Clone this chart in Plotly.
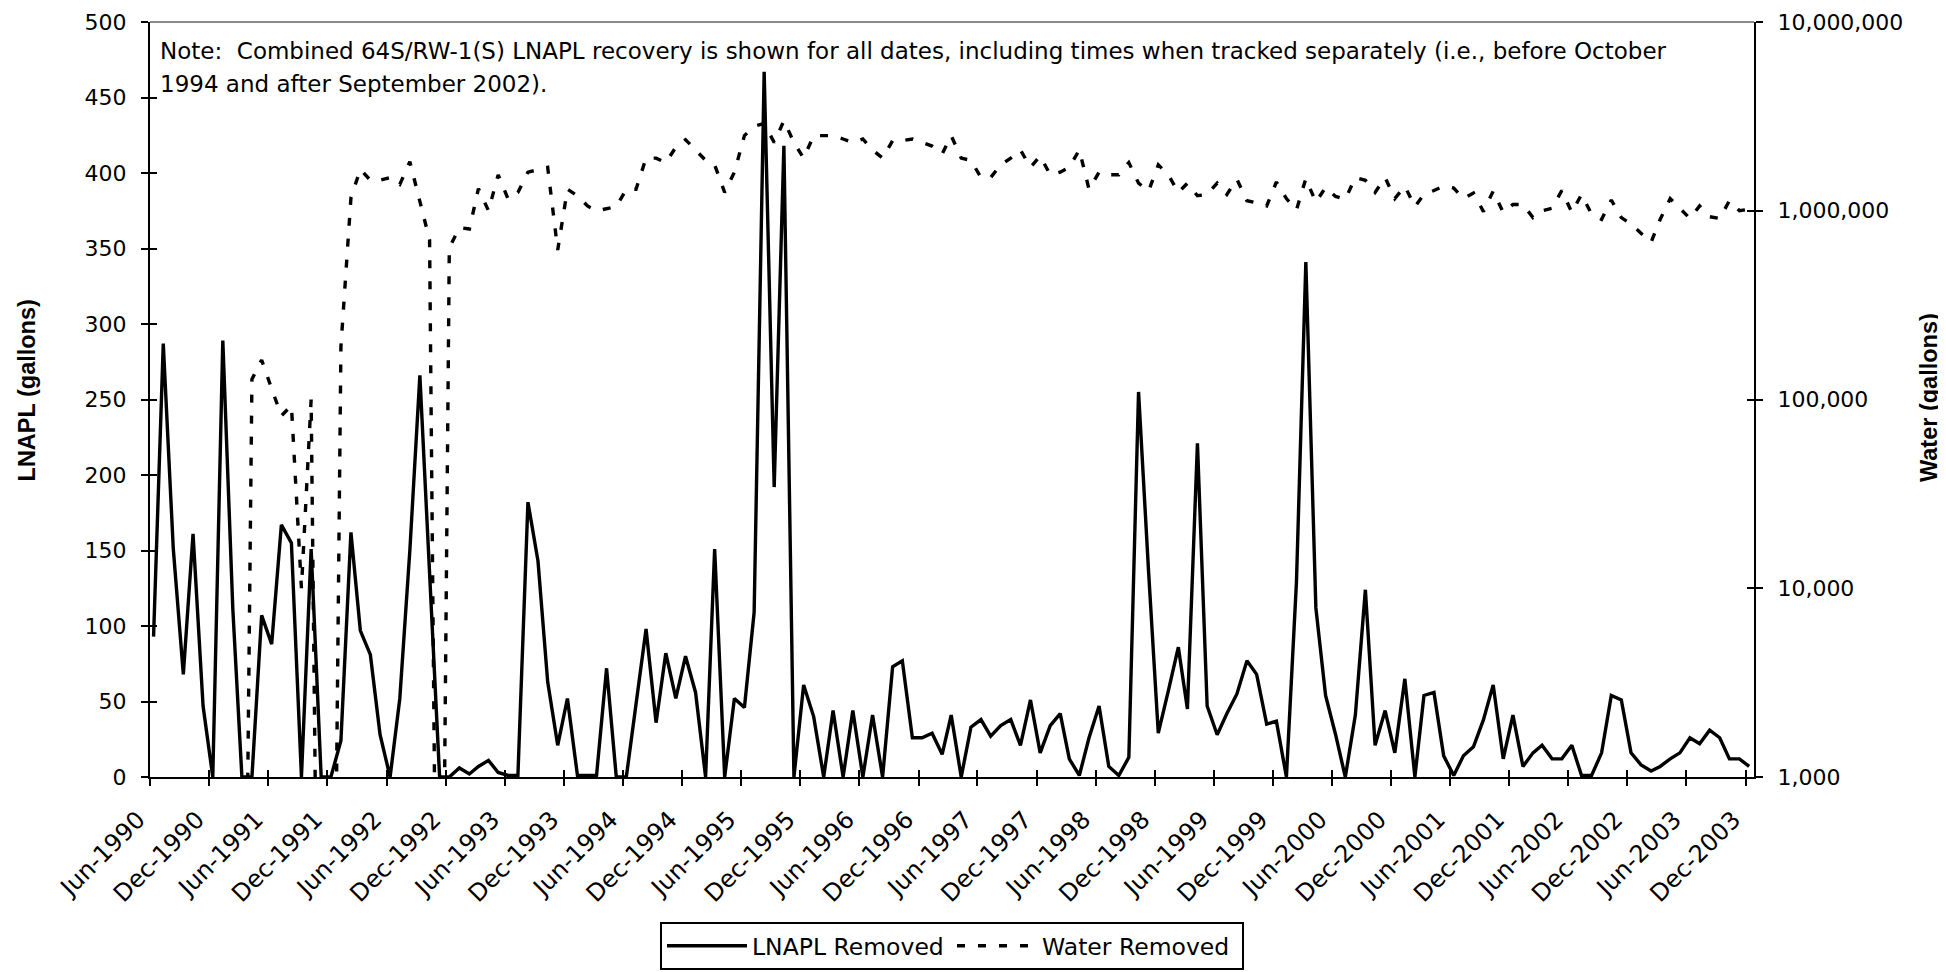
import pandas as pd
import plotly.graph_objects as go

# ---------------- data (monthly, Jun-1990 .. Dec-2003) ----------------
lnapl = [
    93, 287, 151, 68, 161, 47, 0, 289, 111, 0,
    0, 107, 88, 167, 155, 0, 151, 0, 0, 24,
    162, 97, 81, 28, 0, 52, 150, 266, 135, 0,
    0, 6, 2, 7, 11, 3, 1, 1, 182, 143,
    63, 21, 52, 1, 1, 1, 72, 0, 0, 48,
    98, 36, 82, 52, 80, 56, 0, 151, 0, 52,
    46, 109, 467, 192, 418, 0, 61, 40, 0, 44,
    0, 44, 0, 41, 0, 73, 77, 26, 26, 29,
    15, 41, 0, 33, 38, 27, 34, 38, 21, 51,
    16, 34, 42, 12, 1, 26, 47, 7, 1, 13,
    255, 136, 29, 57, 86, 45, 221, 47, 28, 42,
    55, 77, 68, 35, 37, 0, 129, 341, 112, 54,
    28, 0, 41, 124, 21, 44, 16, 65, 0, 54,
    56, 14, 1, 14, 20, 38, 61, 12, 41, 7,
    16, 21, 12, 12, 21, 1, 1, 16, 54, 51,
    16, 8, 4, 7, 12, 16, 26, 22, 31, 26,
    12, 12, 7,
]

water = [
    0, 0, 0, 0, 0, 0, 0, 0, 0, 0,
    128000, 162000, 114000, 82000, 93000, 10000, 100000, 0, 0, 190000,
    1170000, 1660000, 1450000, 1450000, 1500000, 1380000, 1820000, 1110000, 700000, 0,
    635000, 815000, 800000, 1310000, 1000000, 1550000, 1150000, 1250000, 1600000, 1650000,
    1700000, 620000, 1300000, 1200000, 1060000, 1000000, 1020000, 1050000, 1300000, 1300000,
    1900000, 1900000, 1800000, 2170000, 2380000, 2100000, 1850000, 1750000, 1250000, 1600000,
    2500000, 2800000, 2900000, 2300000, 3000000, 2300000, 1900000, 2500000, 2500000, 2500000,
    2400000, 2300000, 2400000, 2100000, 1900000, 2350000, 2350000, 2400000, 2300000, 2200000,
    2000000, 2500000, 1900000, 1850000, 1500000, 1500000, 1750000, 1900000, 2100000, 1700000,
    1950000, 1550000, 1600000, 1700000, 2100000, 1300000, 1600000, 1550000, 1550000, 1800000,
    1400000, 1270000, 1750000, 1550000, 1250000, 1400000, 1200000, 1220000, 1400000, 1220000,
    1470000, 1130000, 1100000, 1060000, 1420000, 1160000, 1010000, 1480000, 1110000, 1330000,
    1190000, 1150000, 1500000, 1450000, 1250000, 1500000, 1160000, 1350000, 1050000, 1220000,
    1280000, 1350000, 1320000, 1160000, 1240000, 990000, 1270000, 980000, 1080000, 1080000,
    920000, 1000000, 1030000, 1280000, 980000, 1220000, 960000, 900000, 1140000, 920000,
    850000, 760000, 680000, 900000, 1160000, 1030000, 910000, 1060000, 930000, 910000,
    1130000, 1000000, 1020000,
]

tick_dates = pd.date_range("1990-06-01", "2003-12-01", freq="6MS")
tick_labels = [d.strftime("%b-%Y") for d in tick_dates]

water_ticks = [1e3, 1e4, 1e5, 1e6, 1e7]
water_tick_labels = ["1,000", "10,000", "100,000", "1,000,000", "10,000,000"]

note_line1 = ("Note:  Combined 64S/RW-1(S) LNAPL recovery is shown for all dates, including "
              "times when tracked separately (i.e., before October")
note_line2 = "1994 and after September 2002)."

# ---------------- figure ----------------
dates = pd.date_range("1990-06-01", periods=len(lnapl), freq="MS") + pd.Timedelta(days=11)
# zero water readings sit below the log axis (clipped), like the original chart
water_plot = [w if w > 0 else 1 for w in water]

X_RANGE = ["1990-06-01", "2003-12-27"]
TICK_FONT = dict(family="DejaVu Sans", size=22, color="black")
XTICK_FONT = dict(family="DejaVu Sans", size=24, color="black")

fig = go.Figure()
fig.add_trace(go.Scatter(
    x=dates, y=lnapl, name="LNAPL Removed", mode="lines",
    line=dict(color="black", width=3.4), xaxis="x", yaxis="y",
))
fig.add_trace(go.Scatter(
    x=dates, y=water_plot, name="Water Removed", mode="lines",
    line=dict(color="black", width=3.4, dash="8px,13px"), xaxis="x", yaxis="y2",
))
# invisible carriers for the inner half of the "cross" tick marks
fig.add_trace(go.Scatter(x=dates, y=lnapl, mode="lines", opacity=0, showlegend=False,
                         hoverinfo="skip", xaxis="x2", yaxis="y3"))
fig.add_trace(go.Scatter(x=dates, y=water_plot, mode="lines", opacity=0, showlegend=False,
                         hoverinfo="skip", xaxis="x2", yaxis="y4"))

axis_common = dict(showgrid=False, zeroline=False, tickcolor="black", tickwidth=2, ticklen=7)

fig.update_layout(
    width=1938, height=964,
    margin=dict(l=142, r=192, t=14, b=195, autoexpand=False),
    plot_bgcolor="white", paper_bgcolor="white",
    font=dict(family="DejaVu Sans", color="black"),
    xaxis=dict(type="date", range=X_RANGE, tickmode="array", tickvals=tick_dates,
               ticktext=tick_labels, tickangle=-45, ticks="outside",
               showline=True, linecolor="black", linewidth=2, tickfont=XTICK_FONT,
               ticklabelshift=-12, ticklabelstandoff=10, **axis_common),
    xaxis2=dict(type="date", range=X_RANGE, overlaying="x", anchor="y", side="bottom",
                tickmode="array", tickvals=tick_dates, ticks="inside",
                showticklabels=False, showline=False, **axis_common),
    yaxis=dict(range=[0, 500], tickmode="linear", tick0=0, dtick=50, ticks="outside",
               showline=True, linecolor="black", linewidth=2, tickfont=TICK_FONT,
               ticklabelstandoff=10, **axis_common),
    yaxis2=dict(type="log", range=[3, 7], overlaying="y", side="right", anchor="x",
                tickmode="array", tickvals=water_ticks, ticktext=water_tick_labels,
                ticks="outside", showline=True, linecolor="black", linewidth=2,
                tickfont=TICK_FONT, ticklabelstandoff=10, **axis_common),
    yaxis3=dict(range=[0, 500], overlaying="y", side="left", anchor="x",
                tickmode="linear", tick0=0, dtick=50, ticks="inside",
                showticklabels=False, showline=False, **axis_common),
    yaxis4=dict(type="log", range=[3, 7], overlaying="y", side="right", anchor="x",
                tickmode="array", tickvals=water_ticks, ticks="inside",
                showticklabels=False, showline=False, **axis_common),
    legend=dict(orientation="h", x=0.5, xanchor="center", y=-0.192, yanchor="top",
                bordercolor="black", borderwidth=2, bgcolor="white",
                font=dict(family="DejaVu Sans", size=23.5, color="black"),
                entrywidth=195, itemwidth=80, traceorder="normal"),
    shapes=[dict(type="line", xref="paper", yref="paper", x0=0, x1=1, y0=1, y1=1,
                 line=dict(color="#8a8a8a", width=2))],
    annotations=[
        dict(text=note_line1, xref="paper", yref="paper", x=0.005, y=0.9616,
             xanchor="left", yanchor="middle", showarrow=False,
             font=dict(family="DejaVu Sans", size=23, color="black")),
        dict(text=note_line2, xref="paper", yref="paper", x=0.005, y=0.9179,
             xanchor="left", yanchor="middle", showarrow=False,
             font=dict(family="DejaVu Sans", size=23, color="black")),
        dict(text="LNAPL (gallons)", xref="paper", yref="paper", x=-0.077, y=0.5126,
             xanchor="center", yanchor="middle", textangle=-90, showarrow=False,
             font=dict(family="Liberation Sans", size=23.5, color="black", weight="bold")),
        dict(text="Water (gallons)", xref="paper", yref="paper", x=1.1091, y=0.5033,
             xanchor="center", yanchor="middle", textangle=-90, showarrow=False,
             font=dict(family="Liberation Sans", size=23.5, color="black", weight="bold")),
    ],
)

fig.write_html("out.html")
